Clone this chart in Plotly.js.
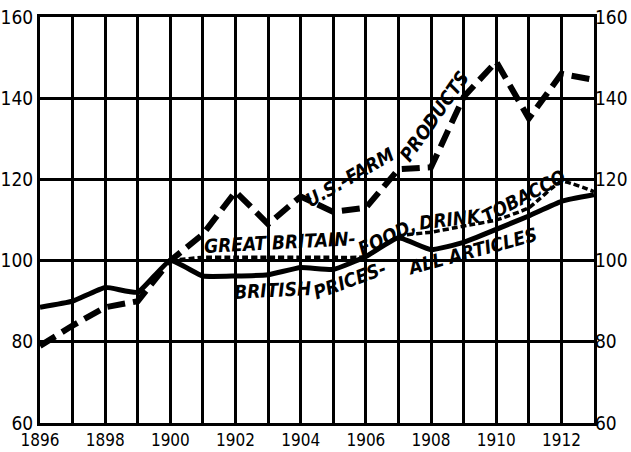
<!DOCTYPE html>
<html><head><meta charset="utf-8">
<script src="https://cdn.plot.ly/plotly-3.0.1.min.js"></script>
<style>html,body{margin:0;padding:0;background:#fff}</style>
</head><body><div id="chart" style="width:631px;height:452px"></div>
<script>
const years = [1896,1897,1898,1899,1900,1901,1902,1903,1904,1905,1906,1907,1908,1909,1910,1911,1912,1913];
const usFarm = [79,84,88.5,90,100,106.5,117,109,115.8,112,113,122.5,123,140.3,149,135,146,144.5];
const gbFoodYears = [1900,1901,1902,1903,1904,1905,1906,1907,1908,1909,1910,1911,1912,1913];
const gbFood = [100,100.8,100.8,100.8,100.8,100.8,101,106,107,108.5,110,113,119.5,117];
const britishAll = [88.5,90,93.4,92.2,100,96.2,96.2,96.5,98.3,97.8,101,105.6,102.7,104.5,107.7,111,114.6,116.2];
const yTicks = [60,80,100,120,140,160];
const xLabelYears = [1896,1898,1900,1902,1904,1906,1908,1910,1912];

const labels = [
  {text:'GREAT BRITAIN-', x:1903.36, y:104.5, a:-3},
  {text:'FOOD,', x:1906.62, y:105.9, a:-25},
  {text:'DRINK', x:1908.6, y:110.2, a:-7},
  {text:'TOBACCO', x:1910.85, y:115.8, a:-28},
  {text:'BRITISH', x:1903.12, y:92.7, a:-3},
  {text:'PRICES-', x:1905.5, y:95.1, a:-20},
  {text:'ALL ARTICLES', x:1909.25, y:102.3, a:-15},
  {text:'U.S.-FARM', x:1905.5, y:120.6, a:-30},
  {text:'PRODUCTS', x:1908.1, y:135.5, a:-55}
];

const traces = [
  {x:years, y:usFarm, mode:'lines', line:{color:'#000', width:6, dash:'18px,8px'}, hoverinfo:'skip'},
  {x:gbFoodYears, y:gbFood, mode:'lines', line:{color:'#000', width:3.5, dash:'6px,3px', shape:'spline', smoothing:0.4}, hoverinfo:'skip'},
  {x:years, y:britishAll, mode:'lines', line:{color:'#000', width:5, shape:'spline', smoothing:0.4}, hoverinfo:'skip'},
  {x:[1896,1913], y:[60,60], yaxis:'y2', mode:'lines', line:{width:0}, hoverinfo:'skip', showlegend:false}
];

const fam = '"Liberation Sans Narrow", "DejaVu Sans Condensed", sans-serif';
const layout = {
  width:631, height:452,
  margin:{l:40, r:37, t:17, b:29},
  paper_bgcolor:'#fff', plot_bgcolor:'#fff',
  showlegend:false,
  xaxis:{range:[1896,1913], tickvals:years, ticktext:years.map(y=>xLabelYears.includes(y)?String(y):''),
    showgrid:true, gridcolor:'#000', gridwidth:3, zeroline:false,
    showline:true, linecolor:'#000', linewidth:3, mirror:true, ticks:'',
    tickfont:{family:fam, size:17, color:'#000'}, fixedrange:true},
  yaxis:{range:[60,160], tickvals:yTicks, ticktext:yTicks.map(String),
    showgrid:true, gridcolor:'#000', gridwidth:3, zeroline:false,
    showline:true, linecolor:'#000', linewidth:3, mirror:true, ticks:'',
    tickfont:{family:fam, size:19, color:'#000'}, fixedrange:true},
  yaxis2:{range:[60,160], overlaying:'y', side:'right', tickvals:yTicks, ticktext:yTicks.map(String),
    showgrid:false, zeroline:false, showline:false, ticks:'',
    tickfont:{family:fam, size:19, color:'#000'}, fixedrange:true},
  annotations: labels.map(l=>({text:l.text, x:l.x, y:l.y, xref:'x', yref:'y', showarrow:false, textangle:l.a,
    font:{family:fam, size:19, color:'#000', weight:'bold', style:'italic'}}))
};
Plotly.newPlot('chart', traces, layout, {staticPlot:true, displayModeBar:false});
</script></body></html>
